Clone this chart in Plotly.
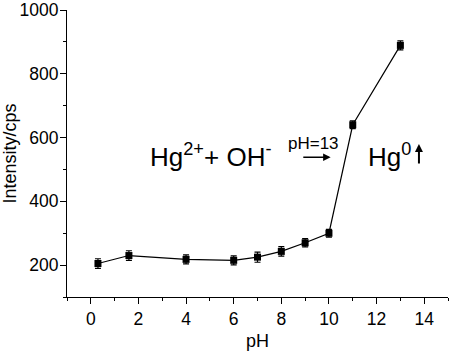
import plotly.graph_objects as go

ph = [0.3, 1.6, 4, 6, 7, 8, 9, 10, 11, 13]
intensity = [205, 230, 218, 215, 225, 243, 270, 300, 640, 889]
err = [15, 15, 14, 14, 16, 15, 13, 12, 12, 14]

x_ticks = [0, 2, 4, 6, 8, 10, 12, 14]
y_ticks = [200, 400, 600, 800, 1000]

fig = go.Figure()
fig.add_trace(go.Scatter(
    x=ph, y=intensity, mode="lines+markers",
    line=dict(color="black", width=1.2),
    marker=dict(symbol="square", size=7, color="black"),
    error_y=dict(type="data", array=err, color="black", thickness=1.2, width=3),
    showlegend=False,
    cliponaxis=False,
))

font = "Liberation Sans, Arial, sans-serif"
fig.update_layout(
    width=450, height=351,
    margin=dict(l=67, r=2, t=10, b=54, autoexpand=False),
    paper_bgcolor="white", plot_bgcolor="white",
    font=dict(family=font, color="black", size=17),
    xaxis=dict(
        range=[-1, 15], tickvals=x_ticks, ticks="outside", ticklen=6, tickwidth=1, tickcolor="black",
        showline=True, linecolor="black", linewidth=1, showgrid=False, zeroline=False,
        minor=dict(tickvals=[-1, 1, 3, 5, 7, 9, 11, 13, 15], ticks="outside", ticklen=3, tickcolor="black"),
        tickfont=dict(size=17.5), automargin=False, ticklabeloverflow="allow",
        title=dict(text="pH", font=dict(size=18)),
    ),
    yaxis=dict(
        range=[100, 1000], tickvals=y_ticks, ticks="outside", ticklen=6, tickwidth=1, tickcolor="black",
        showline=True, linecolor="black", linewidth=1, showgrid=False, zeroline=False,
        minor=dict(tickvals=[100, 300, 500, 700, 900], ticks="outside", ticklen=3, tickcolor="black"),
        tickfont=dict(size=17.5), automargin=False, ticklabeloverflow="allow", ticklabelstandoff=-2,
        title=dict(text="Intensity/cps", font=dict(size=18)),
    ),
)

fig.add_annotation(x=2.42, y=544, xref="x", yref="y", text="Hg<sup>2+</sup>+ OH<sup>-</sup>",
                   showarrow=False, xanchor="left", yanchor="middle", font=dict(size=26))
fig.add_annotation(x=8.19, y=581, xref="x", yref="y", text="pH=13",
                   showarrow=False, xanchor="left", yanchor="middle", font=dict(size=17))
fig.add_annotation(x=10.07, y=538, ax=8.86, ay=538, xref="x", yref="y", axref="x", ayref="y",
                   text="", showarrow=True, arrowhead=2, arrowsize=1, arrowwidth=1.5, arrowcolor="black")
fig.add_annotation(x=11.55, y=544, xref="x", yref="y", text="Hg<sup>0</sup>",
                   showarrow=False, xanchor="left", yanchor="middle", font=dict(size=26))
fig.add_annotation(x=13.78, y=580, ax=13.78, ay=514, xref="x", yref="y", axref="x", ayref="y",
                   text="", showarrow=True, arrowhead=2, arrowsize=0.8, arrowwidth=2, arrowcolor="black")

fig.write_html("out.html", config={"displayModeBar": False},
               post_script="document.body.style.margin='0';document.body.style.overflow='hidden';")
